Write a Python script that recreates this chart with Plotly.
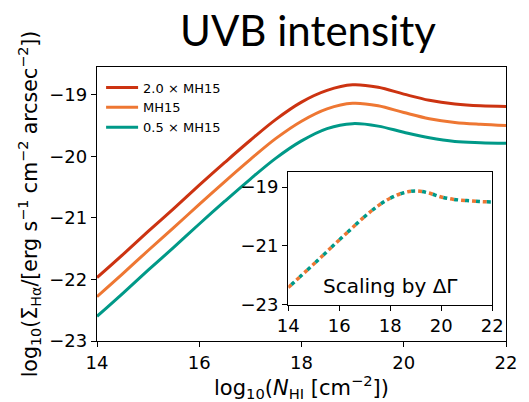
import plotly.graph_objects as go

# ---- data ----
log_nhi = [14, 14.5, 15, 15.5, 16, 16.5, 17, 17.5, 18, 18.5, 19, 19.5, 20, 20.5, 21, 21.5, 22]
red_2x = [-21.97, -21.60, -21.22, -20.85, -20.47, -20.10, -19.74, -19.40, -19.12, -18.93,
          -18.84, -18.88, -18.99, -19.09, -19.15, -19.18, -19.19]
orange_mh15 = [-22.28, -21.91, -21.53, -21.16, -20.78, -20.41, -20.05, -19.71, -19.43, -19.23,
               -19.14, -19.18, -19.29, -19.39, -19.45, -19.48, -19.50]
teal_half = [-22.60, -22.23, -21.85, -21.48, -21.10, -20.73, -20.37, -20.03, -19.75, -19.55,
             -19.47, -19.51, -19.61, -19.70, -19.76, -19.78, -19.79]

inset_x = [14, 14.5, 15, 15.5, 16, 16.5, 17, 17.5, 18, 18.5, 19, 19.5, 20, 20.5, 21, 21.5, 22]
inset_y = [-22.42, -22.02, -21.62, -21.21, -20.80, -20.40, -20.00, -19.65, -19.38, -19.20,
           -19.13, -19.20, -19.34, -19.42, -19.46, -19.49, -19.51]

legend_names = ["2.0 × MH15", "MH15", "0.5 × MH15"]
x_ticks = [14, 16, 18, 20, 22]
y_ticks = [-23, -22, -21, -20, -19]
inset_y_ticks = [-23, -21, -19]

RED, ORANGE, TEAL = "#CC3311", "#EE7733", "#009988"
TICKFONT = dict(family="DejaVu Sans", size=18, color="black")

fig = go.Figure()
for ys, c, name in zip([red_2x, orange_mh15, teal_half], [RED, ORANGE, TEAL], legend_names):
    fig.add_trace(go.Scatter(x=log_nhi, y=ys, mode="lines", name=name,
                             line=dict(color=c, width=3, shape="spline"),
                             xaxis="x", yaxis="y"))

# inset traces
fig.add_trace(go.Scatter(x=inset_x, y=inset_y, mode="lines", showlegend=False,
                         line=dict(color=ORANGE, width=3.5, dash="4px,7px", shape="spline"),
                         xaxis="x2", yaxis="y2"))
fig.add_trace(go.Scatter(x=inset_x, y=inset_y, mode="lines", showlegend=False,
                         line=dict(color=TEAL, width=3.5, dash="0px,4px,4px,3px", shape="spline"),
                         xaxis="x2", yaxis="y2"))

axis_common = dict(showgrid=False, zeroline=False, showline=True, linecolor="black",
                   linewidth=1.3, mirror=True, ticks="outside", ticklen=5, tickwidth=1.2,
                   tickcolor="black", tickfont=TICKFONT)

fig.update_layout(
    width=529, height=402,
    margin=dict(l=97, r=15, t=67, b=49),
    paper_bgcolor="white", plot_bgcolor="white",
    title=dict(text="UVB intensity", x=308/529, xanchor="center", y=1 - 31/402, yanchor="middle",
               font=dict(family="Lato", size=42, color="black")),
    xaxis=dict(range=[14, 22], tickvals=x_ticks, ticktext=[str(v) for v in x_ticks],
               title=dict(text="log<sub>10</sub>(<i>N</i><sub>HI</sub> [cm<sup>−2</sup>])",
                          font=dict(family="DejaVu Sans", size=21, color="black"), standoff=3),
               **axis_common),
    yaxis=dict(range=[-23, -18.55], tickvals=y_ticks, ticktext=["−%d" % -v for v in y_ticks],
               title=dict(text="log<sub>10</sub>(Σ<sub>Hα</sub>/[erg s<sup>−1</sup> cm<sup>−2</sup> arcsec<sup>−2</sup>])",
                          font=dict(family="DejaVu Sans", size=20.5, color="black"), standoff=6),
               **axis_common),
    xaxis2=dict(domain=[0.4676, 0.9664], anchor="y2", range=[14, 22], tickvals=x_ticks,
                ticktext=[str(v) for v in x_ticks], **axis_common),
    yaxis2=dict(domain=[0.1329, 0.6154], anchor="x2", range=[-23, -18.5], tickvals=inset_y_ticks,
                ticktext=["−%d" % -v for v in inset_y_ticks], **axis_common),
    legend=dict(x=0.01, y=0.98, xanchor="left", yanchor="top", bgcolor="rgba(0,0,0,0)",
                font=dict(family="DejaVu Sans", size=13, color="black"), itemwidth=32,
                tracegroupgap=0),
    showlegend=True,
)

# white background for inset
fig.add_shape(type="rect", xref="x2 domain", yref="y2 domain", x0=0, x1=1, y0=0, y1=1,
              fillcolor="white", line=dict(width=0), layer="below")

fig.add_annotation(text="Scaling by ΔΓ", xref="x2 domain", yref="y2 domain",
                   x=0.5, y=0.14, xanchor="center", yanchor="middle", showarrow=False,
                   font=dict(family="DejaVu Sans", size=20, color="black"))

fig.write_html("out.html")
